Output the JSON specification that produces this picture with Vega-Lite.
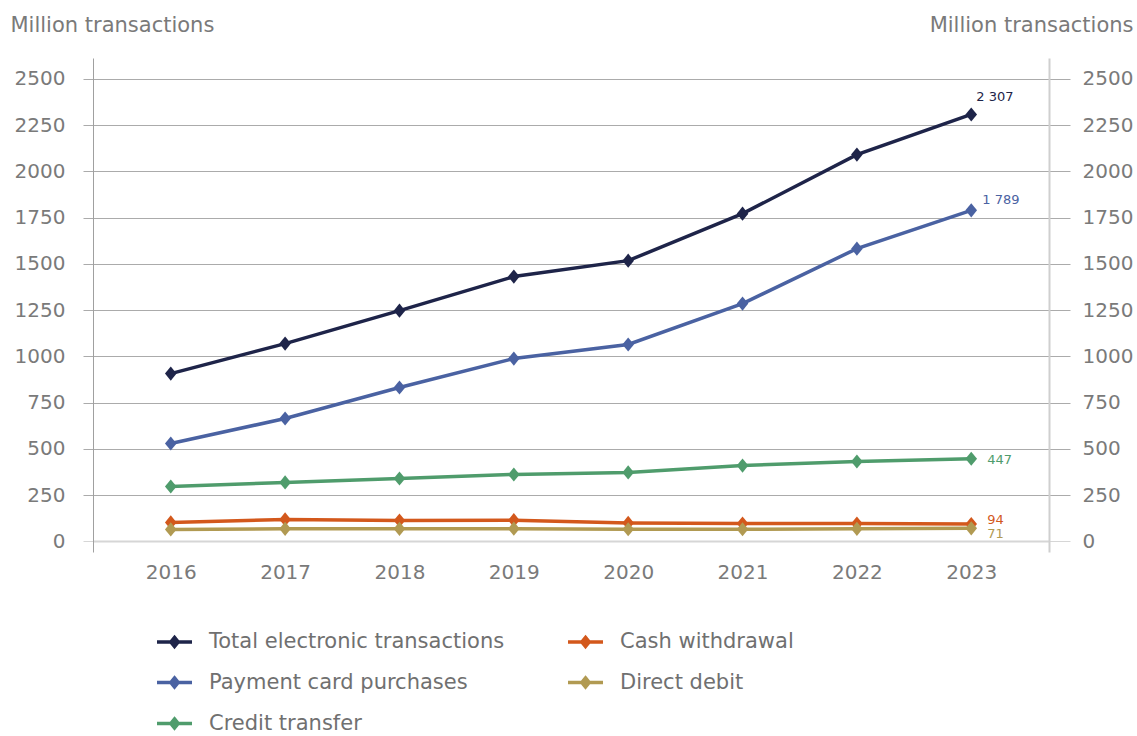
{
  "$schema": "https://vega.github.io/schema/vega-lite/v6.json",
  "autosize": {"type": "none"},
  "padding": {"left": 93, "top": 58, "right": 88, "bottom": 184},
  "width": 956,
  "height": 494,
  "background": "white",
  "config": {
    "font": "DejaVu Sans",
    "view": {"stroke": null},
    "locale": {"number": {"decimal": ".", "thousands": " ", "grouping": [3], "currency": ["", ""]}}
  },
  "data": {
    "values": [
      {"year": "2016", "series": "Total electronic transactions", "value": 907},
      {"year": "2017", "series": "Total electronic transactions", "value": 1069},
      {"year": "2018", "series": "Total electronic transactions", "value": 1247},
      {"year": "2019", "series": "Total electronic transactions", "value": 1431},
      {"year": "2020", "series": "Total electronic transactions", "value": 1517},
      {"year": "2021", "series": "Total electronic transactions", "value": 1771},
      {"year": "2022", "series": "Total electronic transactions", "value": 2090},
      {"year": "2023", "series": "Total electronic transactions", "value": 2307},
      {"year": "2016", "series": "Payment card purchases", "value": 529},
      {"year": "2017", "series": "Payment card purchases", "value": 664},
      {"year": "2018", "series": "Payment card purchases", "value": 832},
      {"year": "2019", "series": "Payment card purchases", "value": 988},
      {"year": "2020", "series": "Payment card purchases", "value": 1064},
      {"year": "2021", "series": "Payment card purchases", "value": 1285},
      {"year": "2022", "series": "Payment card purchases", "value": 1582},
      {"year": "2023", "series": "Payment card purchases", "value": 1789},
      {"year": "2016", "series": "Credit transfer", "value": 297},
      {"year": "2017", "series": "Credit transfer", "value": 319},
      {"year": "2018", "series": "Credit transfer", "value": 340},
      {"year": "2019", "series": "Credit transfer", "value": 362},
      {"year": "2020", "series": "Credit transfer", "value": 373},
      {"year": "2021", "series": "Credit transfer", "value": 410},
      {"year": "2022", "series": "Credit transfer", "value": 432},
      {"year": "2023", "series": "Credit transfer", "value": 447},
      {"year": "2016", "series": "Cash withdrawal", "value": 103},
      {"year": "2017", "series": "Cash withdrawal", "value": 119},
      {"year": "2018", "series": "Cash withdrawal", "value": 113},
      {"year": "2019", "series": "Cash withdrawal", "value": 115},
      {"year": "2020", "series": "Cash withdrawal", "value": 100},
      {"year": "2021", "series": "Cash withdrawal", "value": 97},
      {"year": "2022", "series": "Cash withdrawal", "value": 97},
      {"year": "2023", "series": "Cash withdrawal", "value": 94},
      {"year": "2016", "series": "Direct debit", "value": 65},
      {"year": "2017", "series": "Direct debit", "value": 68},
      {"year": "2018", "series": "Direct debit", "value": 68},
      {"year": "2019", "series": "Direct debit", "value": 69},
      {"year": "2020", "series": "Direct debit", "value": 66},
      {"year": "2021", "series": "Direct debit", "value": 66},
      {"year": "2022", "series": "Direct debit", "value": 68},
      {"year": "2023", "series": "Direct debit", "value": 71}
    ]
  },
  "encoding": {
    "x": {
      "field": "year",
      "type": "ordinal",
      "scale": {"type": "point", "padding": 0.68},
      "axis": {
        "title": null,
        "domain": false,
        "ticks": false,
        "grid": false,
        "labelAngle": 0,
        "labelFontSize": 20,
        "labelColor": "#7a7a7a",
        "labelPadding": 10
      }
    },
    "color": {
      "field": "series",
      "type": "nominal",
      "scale": {
        "domain": ["Total electronic transactions", "Payment card purchases", "Credit transfer", "Cash withdrawal", "Direct debit"],
        "range": ["#1e2449", "#4a62a2", "#4f9c6c", "#d3581c", "#b19a52"]
      },
      "legend": {
        "title": null,
        "orient": "none",
        "legendX": 62,
        "legendY": 564,
        "columns": 2,
        "padding": 0,
        "symbolType": "M-1,0H1M0,-0.26L0.21,0L0,0.26L-0.21,0Z",
        "symbolSize": 1225,
        "symbolStrokeWidth": 3.5,
        "labelFontSize": 21,
        "labelColor": "#707070",
        "labelOffset": 15,
        "labelLimit": 500,
        "rowPadding": 9,
        "columnPadding": 56,
        "encode": {
          "symbols": {
            "update": {
              "fill": {"scale": "color", "field": "value"},
              "stroke": {"scale": "color", "field": "value"},
              "opacity": {"value": 1}
            }
          }
        }
      }
    }
  },
  "layer": [
    {
      "mark": {"type": "line", "strokeWidth": 3.5},
      "encoding": {
        "y": {
          "field": "value",
          "type": "quantitative",
          "scale": {"domain": [-57, 2612], "nice": false, "zero": false},
          "axis": {
            "orient": "left",
            "format": "d",
            "title": "Million transactions",
            "titleAngle": 0,
            "titleAlign": "left",
            "titleBaseline": "middle",
            "titleX": -83,
            "titleY": -33,
            "titleFontSize": 21,
            "titleFontWeight": "normal",
            "titleColor": "#7a7a7a",
            "values": [0, 250, 500, 750, 1000, 1250, 1500, 1750, 2000, 2250, 2500],
            "grid": true,
            "gridColor": {"condition": {"test": "datum.value === 0", "value": "#d6d6d6"}, "value": "#ababab"},
            "gridWidth": {"condition": {"test": "datum.value === 0", "value": 2}, "value": 1},
            "tickSize": 10,
            "tickColor": {"condition": {"test": "datum.value === 0", "value": "#d6d6d6"}, "value": "#ababab"},
            "domainColor": "#a0a0a0",
            "labelFontSize": 20,
            "labelColor": "#7a7a7a",
            "labelPadding": 18
          }
        }
      }
    },
    {
      "mark": {"type": "point", "shape": "M0,-1L0.82,0L0,1L-0.82,0Z", "filled": true, "size": 200, "opacity": 1},
      "encoding": {
        "y": {
          "field": "value",
          "type": "quantitative",
          "scale": {"domain": [-57, 2612], "nice": false, "zero": false},
          "axis": {
            "orient": "right",
            "format": "d",
            "title": "Million transactions",
            "titleAngle": 0,
            "titleAlign": "right",
            "titleBaseline": "middle",
            "titleX": 84,
            "titleY": -33,
            "titleFontSize": 21,
            "titleFontWeight": "normal",
            "titleColor": "#7a7a7a",
            "values": [0, 250, 500, 750, 1000, 1250, 1500, 1750, 2000, 2250, 2500],
            "grid": false,
            "tickSize": 21,
            "tickColor": {"condition": {"test": "datum.value === 0", "value": "#d6d6d6"}, "value": "#ababab"},
            "domainColor": "#cfcfcf",
            "domainWidth": 2,
            "labelFontSize": 20,
            "labelColor": "#7a7a7a",
            "labelPadding": 12
          }
        }
      }
    },
    {
      "transform": [{"filter": "datum.year == '2023' && datum.series == 'Total electronic transactions'"}],
      "mark": {"type": "text", "align": "left", "dx": 5, "dy": -17, "fontSize": 13},
      "encoding": {
        "y": {"field": "value", "type": "quantitative", "scale": {"domain": [-57, 2612], "nice": false, "zero": false}, "axis": null},
        "text": {"field": "value", "type": "quantitative", "format": ","},
        "color": {"value": "#1e2449"}
      }
    },
    {
      "transform": [{"filter": "datum.year == '2023' && datum.series == 'Payment card purchases'"}],
      "mark": {"type": "text", "align": "left", "dx": 11, "dy": -10, "fontSize": 13},
      "encoding": {
        "y": {"field": "value", "type": "quantitative", "scale": {"domain": [-57, 2612], "nice": false, "zero": false}, "axis": null},
        "text": {"field": "value", "type": "quantitative", "format": ","},
        "color": {"value": "#4a62a2"}
      }
    },
    {
      "transform": [{"filter": "datum.year == '2023' && datum.series == 'Credit transfer'"}],
      "mark": {"type": "text", "align": "left", "dx": 16, "dy": 1, "fontSize": 13},
      "encoding": {
        "y": {"field": "value", "type": "quantitative", "scale": {"domain": [-57, 2612], "nice": false, "zero": false}, "axis": null},
        "text": {"field": "value", "type": "quantitative", "format": ","},
        "color": {"value": "#4f9c6c"}
      }
    },
    {
      "transform": [{"filter": "datum.year == '2023' && datum.series == 'Cash withdrawal'"}],
      "mark": {"type": "text", "align": "left", "dx": 16, "dy": -4, "fontSize": 13},
      "encoding": {
        "y": {"field": "value", "type": "quantitative", "scale": {"domain": [-57, 2612], "nice": false, "zero": false}, "axis": null},
        "text": {"field": "value", "type": "quantitative", "format": ","},
        "color": {"value": "#d3581c"}
      }
    },
    {
      "transform": [{"filter": "datum.year == '2023' && datum.series == 'Direct debit'"}],
      "mark": {"type": "text", "align": "left", "dx": 16, "dy": 6, "fontSize": 13},
      "encoding": {
        "y": {"field": "value", "type": "quantitative", "scale": {"domain": [-57, 2612], "nice": false, "zero": false}, "axis": null},
        "text": {"field": "value", "type": "quantitative", "format": ","},
        "color": {"value": "#b19a52"}
      }
    }
  ],
  "resolve": {"axis": {"y": "independent"}}
}
